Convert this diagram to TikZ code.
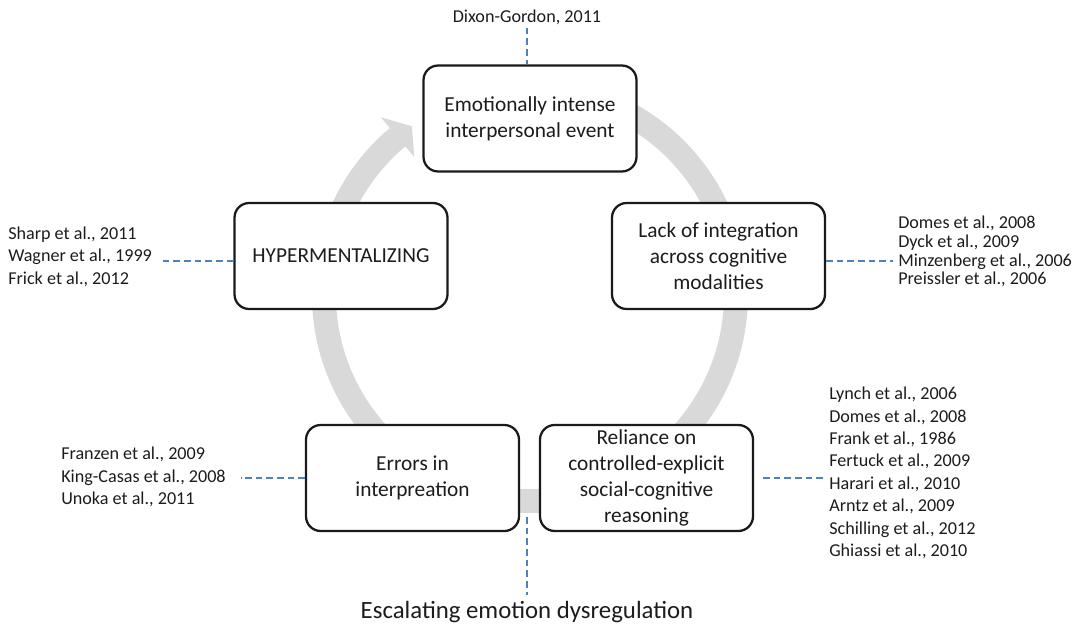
\documentclass[tikz,border=0pt]{standalone}
\usepackage{fontspec}
\setmainfont{Carlito}
\usetikzlibrary{calc}
\definecolor{ringgray}{HTML}{D9D9D9}
\definecolor{refblue}{HTML}{4F81BD}
\definecolor{boxline}{HTML}{1A1A1A}
\definecolor{txt}{HTML}{1C1C1C}
\begin{document}
\begin{tikzpicture}[x=0.75pt,y=-0.75pt,
  box/.style={draw=boxline, line width=1.7pt, rounded corners=11pt, fill=white,
    minimum width=159.75pt, minimum height=79.5pt, inner sep=0pt, align=center,
    text=txt, font=\fontsize{16}{19.5}\selectfont},
  reflist/.style={inner sep=0pt, align=left, text=txt, font=\fontsize{13.6}{16.8}\selectfont},
  refline/.style={draw=refblue, line width=1.3pt, dash pattern=on 5pt off 3pt},
  ring/.style={draw=ringgray, line width=18pt}]
\useasboundingbox (0,0) rectangle (1083,625);
% circular arrow
\coordinate (C) at (530,295);
\draw[ring] ($(C)+(-80:206)$) arc[start angle=-80, end angle=230.2, radius=206];
\fill[ringgray] ($(C)+(230:232)$) -- ($(C)+(235:206)$) -- ($(C)+(230:180)$) -- cycle;
% boxes
\node[box] (top) at (530,118.5) {Emotionally intense\\interpersonal event};
\node[box] (hyper) at (341,256) {HYPERMENTALIZING};
\node[box] (lack) at (718.5,256) {Lack of integration\\across cognitive\\modalities};
\node[box] (err) at (412.5,478) {Errors in\\interpreation};
\node[box] (rel) at (646.5,478) {Reliance on\\controlled-explicit\\social-cognitive\\reasoning};
% reference lists
\node[reflist, anchor=base] (rT) at (527,22.5) {Dixon-Gordon, 2011};
\node[reflist, anchor=west] (rH) at (8,256.7) {Sharp et al., 2011\\Wagner et al., 1999\\Frick et al., 2012};
\node[reflist, anchor=west, font=\fontsize{13.6}{14.1}\selectfont] (rL) at (898,251.5) {Domes et al., 2008\\Dyck et al., 2009\\Minzenberg et al., 2006\\Preissler et al., 2006};
\node[reflist, anchor=west] (rE) at (61,477) {Franzen et al., 2009\\King-Casas et al., 2008\\Unoka et al., 2011};
\node[reflist, anchor=west] (rR) at (829,473) {Lynch et al., 2006\\Domes et al., 2008\\Frank et al., 1986\\Fertuck et al., 2009\\Harari et al., 2010\\Arntz et al., 2009\\Schilling et al., 2012\\Ghiassi et al., 2010};
\node[inner sep=0pt, anchor=base, text=txt, font=\fontsize{18.6}{22}\selectfont] (esc) at (527,618) {Escalating emotion dysregulation};
\coordinate (ringbot) at (527,517);
% dashed connectors
\draw[refline, shorten <=2pt] (rT.south) -- (rT.south |- top.north);
\draw[refline, shorten >=8pt] ([yshift=-3.75pt]hyper.west) -- ([yshift=-3.75pt]hyper.west -| rH.east);
\draw[refline, shorten >=4pt] ([yshift=-3.75pt]lack.east) -- ([yshift=-3.75pt]lack.east -| rL.west);
\draw[refline, shorten >=11pt] (err.west) -- (err.west -| rE.east);
\draw[refline, shorten <=6.75pt, shorten >=1.5pt] (rel.east) -- (rel.east -| rR.west);
\draw[refline, shorten >=4pt] (ringbot) -- (ringbot |- esc.north);
\end{tikzpicture}
\end{document}
